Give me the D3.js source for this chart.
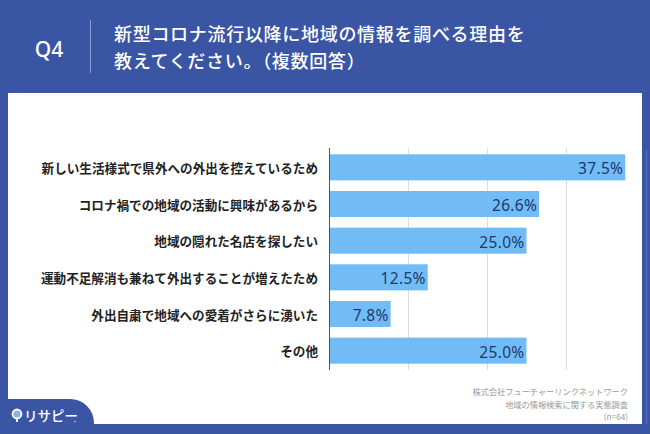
<!DOCTYPE html>
<html>
<head>
<meta charset="utf-8">
<script src="https://cdn.jsdelivr.net/npm/d3@7"></script>
<style>
  html, body { margin: 0; padding: 0; background: #3a55a3; }
  svg { display: block; }
</style>
</head>
<body>
<svg id="chart"></svg>
<script>
// データ
const categories = [
  "新しい生活様式で県外への外出を控えているため",
  "コロナ禍での地域の活動に興味があるから",
  "地域の隠れた名店を探したい",
  "運動不足解消も兼ねて外出することが増えたため",
  "外出自粛で地域への愛着がさらに湧いた",
  "その他"
];
const values = [37.5, 26.6, 25.0, 12.5, 7.8, 25.0];
const gridTicks = [10, 20, 30];
const titleLines = ["新型コロナ流行以降に地域の情報を調べる理由を", "教えてください。（複数回答）"];
const sourceLines = ["株式会社フューチャーリンクネットワーク", "地域の情報検索に関する実態調査", "(n=64)"];

const width = 650, height = 434;
const jp = '"Noto Sans CJK JP", "Noto Sans", sans-serif';

const svg = d3.select('#chart')
  .attr('width', width)
  .attr('height', height);

// 背景
svg.append('rect').attr('width', width).attr('height', height).attr('fill', '#3a55a3');

// ヘッダー
svg.append('text')
  .attr('x', 49).attr('y', 49)
  .attr('text-anchor', 'middle')
  .attr('dominant-baseline', 'central')
  .attr('font-family', '"Noto Sans", sans-serif')
  .attr('font-weight', 500)
  .attr('font-size', 21)
  .attr('fill', '#fff')
  .text('Q4');

svg.append('line')
  .attr('x1', 90.5).attr('x2', 90.5)
  .attr('y1', 20).attr('y2', 73)
  .attr('stroke', '#8e9ccc').attr('stroke-width', 1);

svg.append('g').selectAll('text')
  .data(titleLines)
  .enter().append('text')
  .attr('x', 114)
  .attr('y', (d, i) => 33 + i * 27)
  .attr('dominant-baseline', 'central')
  .attr('font-family', jp)
  .attr('font-weight', 500)
  .attr('font-size', 18)
  .attr('letter-spacing', 0.7)
  .attr('fill', '#fff')
  .text(d => d);

// 白いパネル
svg.append('rect')
  .attr('x', 8).attr('y', 93)
  .attr('width', 634).attr('height', 331)
  .attr('fill', '#fff');

// うっすら見える右端の線
svg.append('line')
  .attr('x1', 646.5).attr('x2', 646.5)
  .attr('y1', 150).attr('y2', 424)
  .attr('stroke', '#5b70b6').attr('stroke-width', 1);

// 左下のタブ
svg.append('path')
  .attr('d', 'M0,399 H70 A24,24 0 0 1 94,423 V434 H0 Z')
  .attr('fill', '#3a55a3');

// スケール
const x = d3.scaleLinear().domain([0, 40]).range([329, 645]);
const y = d3.scaleBand().domain(categories).range([149, 369]).paddingInner(0.29).paddingOuter(0.145);

// グリッド線
svg.append('g').selectAll('line')
  .data(gridTicks)
  .enter().append('line')
  .attr('x1', d => x(d) + 0.5).attr('x2', d => x(d) + 0.5)
  .attr('y1', 148).attr('y2', 370)
  .attr('stroke', '#dcdcdc').attr('stroke-width', 1);

// バー
svg.append('g').selectAll('rect')
  .data(values)
  .enter().append('rect')
  .attr('x', x(0))
  .attr('y', (d, i) => y(categories[i]))
  .attr('width', d => x(d) - x(0))
  .attr('height', y.bandwidth())
  .attr('fill', '#71bcf7');

// 軸線
svg.append('line')
  .attr('x1', x(0) + 0.5).attr('x2', x(0) + 0.5)
  .attr('y1', 148).attr('y2', 370)
  .attr('stroke', '#555').attr('stroke-width', 1);

// カテゴリラベル
svg.append('g').selectAll('text')
  .data(categories)
  .enter().append('text')
  .attr('x', 318)
  .attr('y', d => y(d) + y.bandwidth() / 2)
  .attr('text-anchor', 'end')
  .attr('dominant-baseline', 'central')
  .attr('font-family', jp)
  .attr('font-weight', 700)
  .attr('font-size', 12.6)
  .attr('fill', '#222')
  .text(d => d);

// 値ラベル
svg.append('g').selectAll('text')
  .data(values)
  .enter().append('text')
  .attr('x', d => x(d) - 2)
  .attr('y', (d, i) => y(categories[i]) + y.bandwidth() / 2 + 1)
  .attr('text-anchor', 'end')
  .attr('dominant-baseline', 'central')
  .attr('font-family', '"Noto Sans", sans-serif')
  .attr('font-weight', 400)
  .attr('font-size', 15.5)
  .attr('letter-spacing', 0.3)
  .attr('fill', '#22386a')
  .text(d => d.toFixed(1) + '%');

// 出典
svg.append('g').selectAll('text')
  .data(sourceLines)
  .enter().append('text')
  .attr('x', 628)
  .attr('y', (d, i) => 391 + i * 12.5)
  .attr('text-anchor', 'end')
  .attr('dominant-baseline', 'central')
  .attr('font-family', jp)
  .attr('font-size', 8.2)
  .attr('fill', '#9a9a9a')
  .text(d => d);

// ロゴ
const logo = svg.append('g');
logo.append('circle')
  .attr('cx', 17).attr('cy', 414).attr('r', 4.5)
  .attr('fill', '#8fb2e6').attr('stroke', '#fff').attr('stroke-width', 1.8);
logo.append('line')
  .attr('x1', 17).attr('x2', 17).attr('y1', 418.5).attr('y2', 422)
  .attr('stroke', '#fff').attr('stroke-width', 1.8);
logo.append('text')
  .attr('x', 24).attr('y', 415)
  .attr('dominant-baseline', 'central')
  .attr('font-family', jp)
  .attr('font-weight', 500)
  .attr('font-size', 13.5)
  .attr('fill', '#fff')
  .text('リサピー');
logo.append('circle')
  .attr('cx', 75).attr('cy', 421.5).attr('r', 0.8)
  .attr('fill', '#cfd8ef');
</script>
</body>
</html>
